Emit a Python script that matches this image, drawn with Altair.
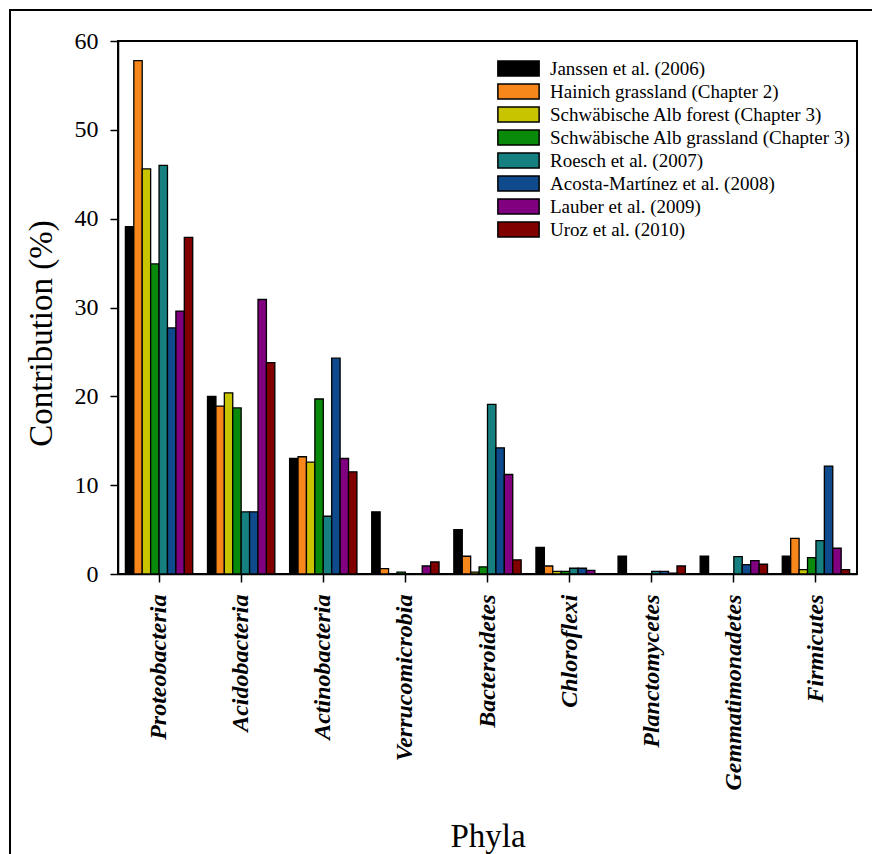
import altair as alt
import pandas as pd

# Phyla on the category axis, in drawing order
phyla = [
    "Proteobacteria", "Acidobacteria", "Actinobacteria", "Verrucomicrobia",
    "Bacteroidetes", "Chloroflexi", "Planctomycetes", "Gemmatimonadetes",
    "Firmicutes",
]

# Studies (legend entries) and their bar colours
studies = [
    "Janssen et al. (2006)",
    "Hainich grassland (Chapter 2)",
    "Schwäbische Alb forest (Chapter 3)",
    "Schwäbische Alb grassland (Chapter 3)",
    "Roesch et al. (2007)",
    "Acosta-Martínez et al. (2008)",
    "Lauber et al. (2009)",
    "Uroz et al. (2010)",
]
colors = ["#000000", "#F7871A", "#C8C400", "#0A8A0A",
          "#168080", "#0F4A8C", "#800080", "#800000"]

# Relative contribution (%) of each phylum, one list per study
janssen = [39.1, 20.0, 13.0, 7.0, 5.0, 3.0, 2.0, 2.0, 2.0]
hainich = [57.8, 18.9, 13.2, 0.6, 2.0, 0.9, 0.0, 0.0, 4.0]
alb_forest = [45.6, 20.4, 12.6, 0.0, 0.2, 0.3, 0.0, 0.0, 0.5]
alb_grassland = [34.9, 18.7, 19.7, 0.2, 0.8, 0.3, 0.0, 0.0, 1.85]
roesch = [46.0, 7.0, 6.5, 0.0, 19.1, 0.65, 0.3, 1.95, 3.75]
acosta = [27.7, 7.0, 24.3, 0.0, 14.2, 0.65, 0.3, 1.05, 12.15]
lauber = [29.6, 30.9, 13.0, 0.9, 11.2, 0.4, 0.1, 1.5, 2.9]
uroz = [37.9, 23.8, 11.5, 1.35, 1.6, 0.0, 0.9, 1.1, 0.5]

series = [janssen, hainich, alb_forest, alb_grassland, roesch, acosta, lauber, uroz]

rows = []
for study, values in zip(studies, series):
    for phylum, v in zip(phyla, values):
        rows.append({"phylum": phylum, "study": study, "value": v})
df = pd.DataFrame(rows)

SERIF = "Liberation Serif"

bars = alt.Chart(df).mark_bar(stroke="black", strokeWidth=1.3).encode(
    x=alt.X(
        "phylum:N",
        sort=phyla,
        scale=alt.Scale(paddingInner=0.18, paddingOuter=0.09),
        axis=alt.Axis(
            title="Phyla",
            labelAngle=270,
            labelFont=SERIF,
            labelFontStyle="italic",
            labelFontWeight="bold",
            labelFontSize=24,
            labelColor="black",
            labelPadding=12,
            labelLimit=400,
            tickSize=8,
            tickColor="black",
            tickWidth=1.5,
            domainColor="black",
            domainWidth=1.5,
            titleFont=SERIF,
            titleFontSize=33,
            titleFontWeight="normal",
            titleColor="black",
            titlePadding=46,
        ),
    ),
    xOffset=alt.XOffset("study:N", sort=studies,
                        scale=alt.Scale(paddingInner=0, paddingOuter=0)),
    y=alt.Y(
        "value:Q",
        scale=alt.Scale(domain=[0, 60], nice=False),
        axis=alt.Axis(
            title="Contribution (%)",
            values=[0, 10, 20, 30, 40, 50, 60],
            grid=False,
            labelFont=SERIF,
            labelFontSize=24,
            labelColor="black",
            labelPadding=12,
            tickSize=8,
            tickColor="black",
            tickWidth=1.5,
            domainColor="black",
            domainWidth=1.5,
            titleFont=SERIF,
            titleFontSize=33,
            titleFontWeight="normal",
            titleColor="black",
            titlePadding=16,
            titleY=292,
        ),
    ),
    color=alt.Color(
        "study:N",
        sort=studies,
        scale=alt.Scale(domain=studies, range=colors),
        legend=alt.Legend(
            title=None,
            orient="none",
            legendX=391,
            legendY=18,
            symbolType="M-2.75,-1H2.75V1H-2.75Z",
            symbolSize=225,
            symbolStrokeColor="black",
            symbolStrokeWidth=1.5,
            symbolOpacity=1,
            labelFont=SERIF,
            labelFontSize=19,
            labelColor="black",
            labelOffset=22,
            rowPadding=2,
            labelLimit=400,
        ),
    ),
)

# Outer figure frame
frame = alt.Chart(pd.DataFrame({"f": [0]})).mark_rect(
    fillOpacity=0, stroke="black", strokeWidth=2
).encode(
    x=alt.value(-108), x2=alt.value(1000),
    y=alt.value(-31), y2=alt.value(1000),
)

chart = alt.layer(frame, bars).properties(
    width=739,
    height=533,
    padding={"left": 118, "top": 41, "right": 15, "bottom": 280},
    autosize=alt.AutoSizeParams(type="none"),
    background="white",
).configure_view(
    stroke="black", strokeWidth=2
)

chart.save("out.html", embed_options={"renderer": "svg", "actions": False})
